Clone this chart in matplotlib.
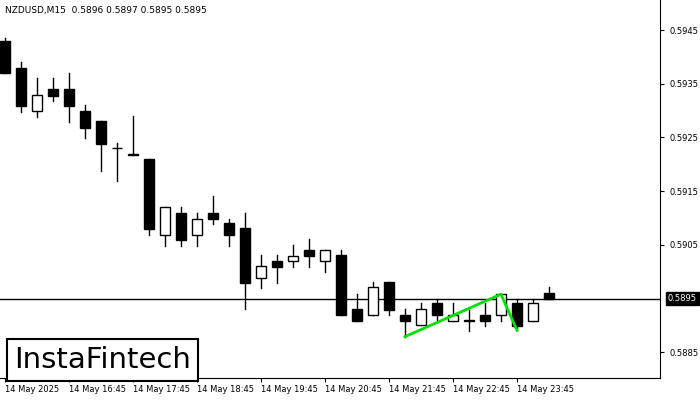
import matplotlib
matplotlib.use("Agg")
import matplotlib.pyplot as plt
from matplotlib.patches import Rectangle

opens  = [.59430,.59379,.59299,.59340,.59340,.59299,.59280,.59230,.59218,.59209,
          .59069,.59110,.59069,.59110,.59090,.59081,.58989,.59019,.59019,.59040,
          .59019,.59031,.58930,.58920,.58980,.58920,.58900,.58941,.58909,.58909,
          .58920,.58920,.58941,.58909,.58960]
highs  = [.59435,.59390,.59361,.59361,.59370,.59310,.59280,.59239,.59290,.59209,
          .59120,.59120,.59110,.59141,.59099,.59110,.59031,.59031,.59049,.59061,
          .59040,.59040,.58959,.58980,.58980,.58930,.58941,.58950,.58941,.58928,
          .58941,.58958,.58950,.58950,.58971]
lows   = [.59370,.59298,.59288,.59318,.59279,.59249,.59187,.59169,.59218,.59068,
          .59048,.59048,.59048,.59089,.59048,.58930,.58970,.58979,.59009,.59009,
          .58999,.58920,.58908,.58920,.58920,.58879,.58900,.58910,.58909,.58890,
          .58899,.58909,.58891,.58909,.58950]
closes = [.59370,.59309,.59329,.59328,.59309,.59268,.59238,.59231,.59218,.59080,
          .59120,.59059,.59099,.59098,.59069,.58979,.59010,.59009,.59030,.59030,
          .59040,.58920,.58908,.58971,.58929,.58908,.58930,.58920,.58920,.58909,
          .58909,.58958,.58899,.58941,.58950]
pattern_x = [25, 31, 32]
pattern_y = [.58879, .58958, .58891]
current_price = 0.5895
yticks = [0.5945, 0.5935, 0.5925, 0.5915, 0.5905, 0.5885]
xtick_pos = [0, 4, 8, 12, 16, 20, 24, 28, 32]
xtick_labels = ["14 May 2025", "14 May 16:45", "14 May 17:45", "14 May 18:45", "14 May 19:45",
                "14 May 20:45", "14 May 21:45", "14 May 22:45", "14 May 23:45"]

fig = plt.figure(figsize=(7, 4), dpi=100)
ax = fig.add_axes([0, 0.055, 660/700, 0.945])
ax.set_xlim(-0.3125, 40.94)
ax.set_ylim(0.58802, 0.59506)

w = 0.6
for i, (o, h, l, c) in enumerate(zip(opens, highs, lows, closes)):
    ax.plot([i, i], [l, h], color="black", lw=1, zorder=2)
    bot, top = min(o, c), max(o, c)
    hgt = max(top - bot, 0.000004)
    fc = "white" if c > o else "black"
    ax.add_patch(Rectangle((i - w/2, bot), w, hgt, facecolor=fc, edgecolor="black", lw=1, zorder=3))

ax.axhline(current_price, color="black", lw=1, zorder=1)
ax.plot(pattern_x, pattern_y, color="#00e000", lw=2, zorder=4)

ax.yaxis.tick_right()
ax.set_yticks(yticks)
ax.set_yticklabels([f"{v:.4f}" for v in yticks], fontsize=6)
ax.tick_params(axis="y", length=3, pad=4)
ax.text(1.012, current_price, f"{current_price:.4f}", transform=ax.get_yaxis_transform(),
        fontsize=6, color="white", va="center", ha="left",
        bbox=dict(facecolor="black", edgecolor="black", pad=1.5), clip_on=False)
ax.set_xticks(xtick_pos)
ax.set_xticklabels(xtick_labels, fontsize=6, ha="left")
ax.tick_params(axis="x", length=3, pad=2)
for s in ["top", "left"]:
    ax.spines[s].set_visible(False)

fig.text(0.007, 0.985, "NZDUSD,M15  0.5896 0.5897 0.5895 0.5895", fontsize=6.5, va="top", ha="left")
fig.text(0.02, 0.1, "InstaFintech", fontsize=21, va="center", ha="left",
         bbox=dict(facecolor="white", edgecolor="black", lw=1.5, pad=5), zorder=10)

fig.savefig("out.png", dpi=100)
